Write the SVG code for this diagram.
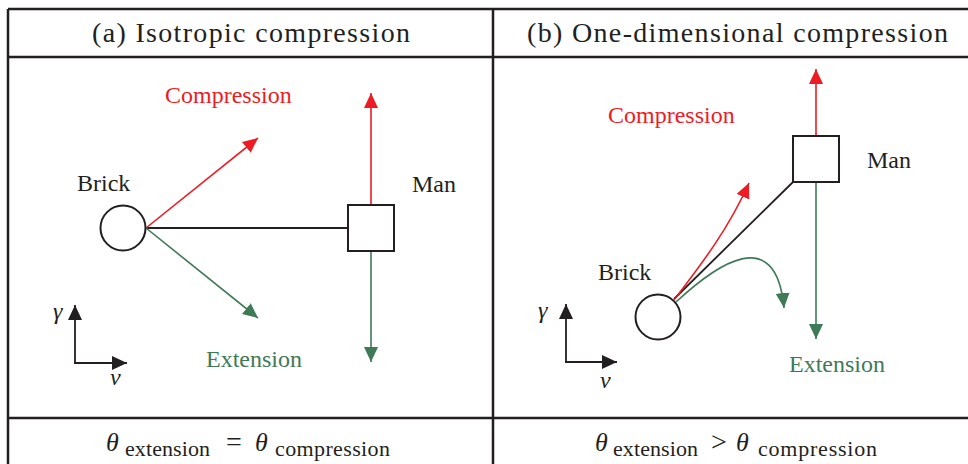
<svg xmlns="http://www.w3.org/2000/svg" width="968" height="464" viewBox="0 0 968 464">
<style>
.grid{stroke:#231f20;stroke-width:2.5;fill:none}
.node{fill:#fff;stroke:#231f20;stroke-width:2}
.k{stroke:#231f20;stroke-width:2;fill:none}
.r{stroke:#ed1c24;stroke-width:1.6;fill:none;marker-end:url(#ar)}
.g{stroke:#3f7a57;stroke-width:1.6;fill:none;marker-end:url(#ag)}
.ax{stroke:#231f20;stroke-width:1.8;fill:none;marker-end:url(#ak)}
</style>
<defs>
<marker id="ar" markerUnits="userSpaceOnUse" markerWidth="15" markerHeight="14" refX="15" refY="7" orient="auto"><path d="M0,0 L15,7 L0,14 z" fill="#ed1c24"/></marker>
<marker id="ag" markerUnits="userSpaceOnUse" markerWidth="15" markerHeight="14" refX="15" refY="7" orient="auto"><path d="M0,0 L15,7 L0,14 z" fill="#3f7a57"/></marker>
<marker id="ak" markerUnits="userSpaceOnUse" markerWidth="15" markerHeight="14" refX="15" refY="7" orient="auto"><path d="M0,0 L15,7 L0,14 z" fill="#231f20"/></marker>
</defs>
<g id="table">
<path class="grid" d="M8,9 H968 M8,57 H968 M8,418 H968 M8,9 V464 M493,9 V464"/>
<text font-family="Times New Roman, serif" font-size="28" fill="#231f20" x="92" y="42" textLength="318">(a) Isotropic compression</text>
<text font-family="Times New Roman, serif" font-size="28" fill="#231f20" x="527" y="42" textLength="421">(b) One-dimensional compression</text>
<text font-family="Times New Roman, serif" font-size="26" font-style="italic" fill="#231f20" x="106" y="451">θ</text>
<text font-family="Times New Roman, serif" font-size="22" fill="#231f20" x="125" y="456" textLength="85">extension</text>
<text font-family="Times New Roman, serif" font-size="28" fill="#231f20" x="226" y="451">=</text>
<text font-family="Times New Roman, serif" font-size="26" font-style="italic" fill="#231f20" x="255" y="451">θ</text>
<text font-family="Times New Roman, serif" font-size="22" fill="#231f20" x="275" y="456" textLength="115">compression</text>
<text font-family="Times New Roman, serif" font-size="26" font-style="italic" fill="#231f20" x="595" y="451">θ</text>
<text font-family="Times New Roman, serif" font-size="22" fill="#231f20" x="613" y="456" textLength="85">extension</text>
<text font-family="Times New Roman, serif" font-size="28" fill="#231f20" x="711" y="451">&gt;</text>
<text font-family="Times New Roman, serif" font-size="26" font-style="italic" fill="#231f20" x="736" y="451">θ</text>
<text font-family="Times New Roman, serif" font-size="22" fill="#231f20" x="758" y="456" textLength="119">compression</text>
</g>
<g id="connectors">
<line class="k" x1="146" y1="228" x2="348" y2="228"/>
<line class="r" x1="146" y1="228" x2="258" y2="138"/>
<line class="g" x1="146" y1="228" x2="258" y2="318"/>
<line class="r" x1="371" y1="205" x2="371" y2="93"/>
<line class="g" x1="371" y1="251" x2="371" y2="362"/>
<line class="ax" x1="75" y1="363" x2="75" y2="305"/>
<polyline class="ax" points="74,363 127,363"/>
<line class="k" x1="674" y1="299" x2="793" y2="182" style="stroke-width:1.8"/>
<path class="r" d="M674,300 C700,266 728,230 749,183"/>
<path class="g" d="M676,302 C716,265 776,222 784,308"/>
<line class="r" x1="816" y1="136" x2="816" y2="69"/>
<line class="g" x1="816" y1="182" x2="816" y2="339"/>
<line class="ax" x1="566" y1="362" x2="566" y2="304"/>
<polyline class="ax" points="565,362 617,362"/>
</g>
<g id="brick-a">
<circle class="node" cx="123" cy="228" r="22.5"/>
<text font-family="Times New Roman, serif" font-size="24" fill="#231f20" x="77" y="191">Brick</text>
</g>
<g id="man-a">
<rect class="node" x="348" y="205" width="46" height="46"/>
<text font-family="Times New Roman, serif" font-size="24" fill="#231f20" x="412" y="192">Man</text>
</g>
<g id="labels-a">
<text font-family="Times New Roman, serif" font-size="24" fill="#ed1c24" x="165" y="103">Compression</text>
<text font-family="Times New Roman, serif" font-size="24" fill="#3f7a57" x="206" y="367">Extension</text>
<text font-family="Times New Roman, serif" font-size="24" font-style="italic" fill="#231f20" x="53" y="319">γ</text>
<text font-family="Times New Roman, serif" font-size="24" font-style="italic" fill="#231f20" x="110" y="385">v</text>
</g>
<g id="brick-b">
<circle class="node" cx="658" cy="317" r="22.5"/>
<text font-family="Times New Roman, serif" font-size="24" fill="#231f20" x="598" y="280">Brick</text>
</g>
<g id="man-b">
<rect class="node" x="793" y="136" width="46" height="46"/>
<text font-family="Times New Roman, serif" font-size="24" fill="#231f20" x="867" y="168">Man</text>
</g>
<g id="labels-b">
<text font-family="Times New Roman, serif" font-size="24" fill="#ed1c24" x="608" y="123">Compression</text>
<text font-family="Times New Roman, serif" font-size="24" fill="#3f7a57" x="789" y="372">Extension</text>
<text font-family="Times New Roman, serif" font-size="24" font-style="italic" fill="#231f20" x="538" y="318">γ</text>
<text font-family="Times New Roman, serif" font-size="24" font-style="italic" fill="#231f20" x="600" y="388">v</text>
</g>
</svg>
